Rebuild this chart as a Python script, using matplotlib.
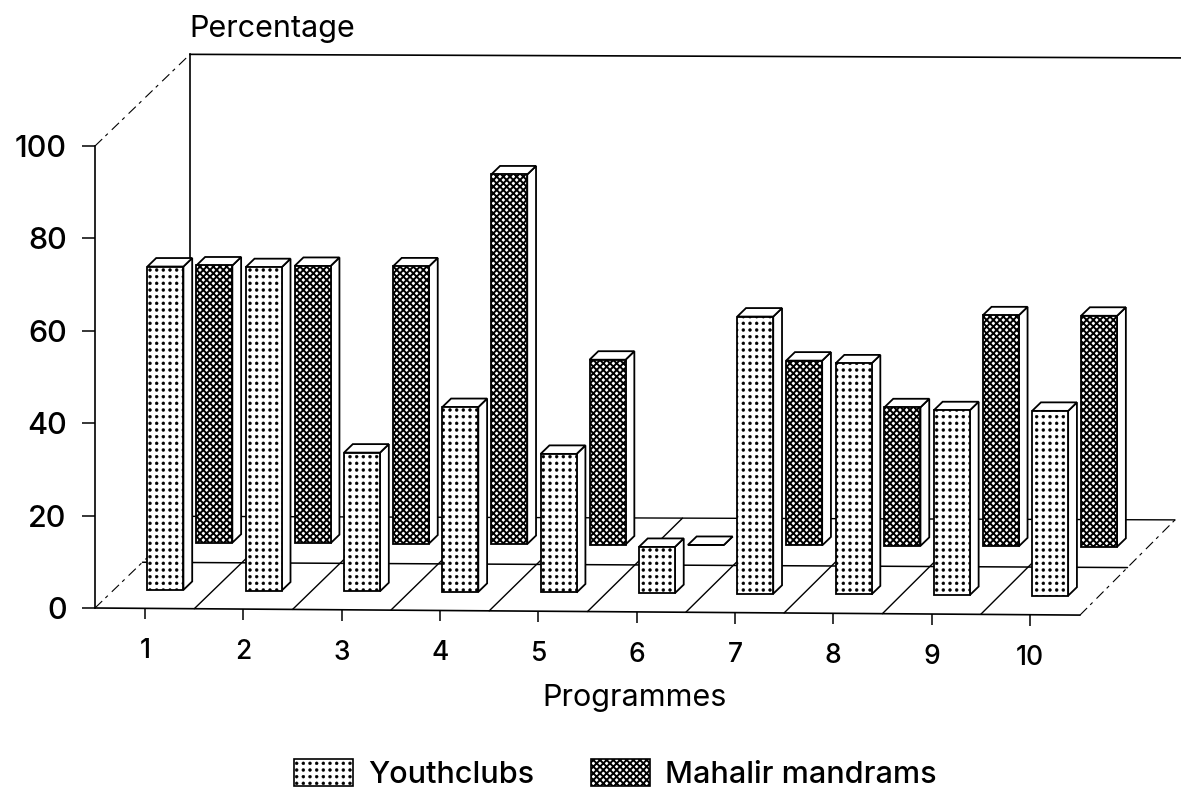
import matplotlib
matplotlib.use("Agg")
import matplotlib.pyplot as plt
import numpy as np
from matplotlib import hatch as mhatch
from matplotlib.path import Path
from matplotlib.patches import Patch
from matplotlib.transforms import Affine2D

programmes = [1, 2, 3, 4, 5, 6, 7, 8, 9, 10]
youthclubs = [70, 70, 30, 40, 30, 10, 60, 50, 40, 40]
mahalir = [60, 60, 60, 80, 40, 0, 40, 30, 50, 50]
y_ticks = [0, 20, 40, 60, 80, 100]
x_label = "Programmes"
y_label = "Percentage"
series_names = ["Youthclubs", "Mahalir mandrams"]


class GridDots(mhatch.HatchPatternBase):
    """Square grid of dots, as in the printed screen tone."""
    rows = 15
    size = 0.22

    def __init__(self, hatch, density):
        self.active = '*' in (hatch or '')
        self.shape = Path.unit_circle()
        self.num_vertices = (self.rows ** 2 * len(self.shape.vertices)) if self.active else 0

    def set_vertices_and_codes(self, vertices, codes):
        if not self.active:
            return
        off = 1.0 / self.rows
        v = self.shape.vertices * off * self.size
        n = len(v)
        cur = 0
        for r in range(self.rows):
            for c in range(self.rows):
                vertices[cur:cur + n] = v + (c * off + off / 2, r * off + off / 2)
                codes[cur:cur + n] = self.shape.codes
                cur += n


mhatch._hatch_types = [t for t in mhatch._hatch_types if t is not mhatch.Stars] + [GridDots]

plt.rcParams['font.family'] = ['Inter', 'DejaVu Sans']
plt.rcParams['font.weight'] = 500
FS = 21
FS_TEXT = 22
W, H = 1181, 798
fig = plt.figure(figsize=(W / 100, H / 100), dpi=100, facecolor='white')
ax = fig.add_axes([95 / W, (H - 608) / H, 985 / W, 462 / H])
ax.set_xlim(0.49, 10.51)
ax.set_ylim(0, 100)
ax.patch.set_alpha(0)

PX = 985 / (10.51 - 0.49)
PY = 4.62
DX = 95 / PX        # x shift for full floor depth
DY = 92 / PY        # y shift for full floor depth
SLOPE = 0.0072      # scan tilt of the baseline, pixels per pixel
TILT = SLOPE * PX / PY


def P(x, y, d=0.0):
    x = np.asarray(x, float)
    return x + d * DX, y + d * DY - TILT * (1 - 0.5 * d) * (x + d * DX - 0.49)


def seg(x0, y0, d0, x1, y1, d1, **kw):
    a, b = P(x0, y0, d0), P(x1, y1, d1)
    kw.setdefault('color', 'black')
    kw.setdefault('lw', 1.0)
    ax.plot([a[0], b[0]], [a[1], b[1]], clip_on=False, solid_capstyle='round', **kw)


XL, XR = 0.49, 10.51
dash = (0, (9, 4, 3, 5))
# back wall
ax.plot([P(XL, 100, 1)[0]] * 2, [P(XL, 0, 1)[1], P(XL, 100, 1)[1]], color='black', lw=1.2, clip_on=False, zorder=1)
seg(XL, 100, 1, XR + 0.08, 100, 1, zorder=1, lw=1.2)
seg(XL, 0, 1, XR, 0, 1, zorder=1)
# left side wall and floor edges
seg(XL, 100, 0, XL, 100, 1, ls=dash, lw=0.8, zorder=1)
seg(XL, 0, 0, XL, 0, 1, ls=dash, lw=0.8, zorder=1)
seg(XR, 0, 0, XR, 0, 1, ls=dash, lw=0.8, zorder=1)
# floor
seg(XL, 0, 0, XR, 0, 0, zorder=1, lw=1.2)
seg(XL, 0, 0.5, XR, 0, 0.5, zorder=1, lw=1.1)
for k in programmes[:-1]:
    seg(k + 0.5, 0, 0, k + 0.5, 0, 1, zorder=1)


def bars(values, depth, z, **style):
    dd = 8.5 / 92
    w = 36 / PX
    for i, (c, v) in enumerate(zip(programmes, values)):
        left = c - 0.17
        x0, y0 = P(left, 0, depth)
        ax.bar(x0, v, width=w, bottom=y0, align='edge', facecolor='white', edgecolor='black',
               linewidth=1.3, zorder=z + i * 0.01 + 0.005, clip_on=False, **style)
        # side face
        q = [(x0 + w, y0), (x0 + w + dd * DX, y0 + dd * DY), (x0 + w + dd * DX, y0 + dd * DY + v), (x0 + w, y0 + v)]
        ax.fill(*zip(*q), facecolor='white', edgecolor='black', lw=1.3, zorder=z + i * 0.01, clip_on=False)
        # top face
        q = [(x0, y0 + v), (x0 + w, y0 + v), (x0 + w + dd * DX, y0 + v + dd * DY), (x0 + dd * DX, y0 + v + dd * DY)]
        ax.fill(*zip(*q), facecolor='white', edgecolor='black', lw=1.3, zorder=z + i * 0.01, clip_on=False)


DARK_LW = 1.4
DOT_LW = 0.3
plt.rcParams['hatch.linewidth'] = DARK_LW
bars(mahalir, 0.715, 3, hatch='xxxxx')
plt.rcParams['hatch.linewidth'] = DOT_LW
bars(youthclubs, 0.20, 5, hatch='*')

# axes
for s in ('top', 'right', 'bottom'):
    ax.spines[s].set_visible(False)
ax.spines['left'].set_linewidth(1.2)
ax.set_yticks(y_ticks)
ax.set_xticks(programmes)
ax.tick_params(axis='y', length=9.4, width=1.1, pad=11, labelsize=FS + 1)
ax.tick_params(axis='x', length=8, width=1.1, pad=13.5, labelsize=FS - 2)
for t, c in zip(ax.xaxis.get_major_ticks(), programmes):
    dy = SLOPE * (c - 0.49) * PX
    shift = Affine2D().translate(0, -dy)
    t.tick1line.set_transform(t.tick1line.get_transform() + shift)
    t.label1.set_transform(t.label1.get_transform() + shift)

ax.set_xlabel(x_label, fontsize=FS_TEXT, va='center', ha='center')
ax.xaxis.set_label_coords((635 - 95) / 985, -(698 - 608) / 462)
ax.set_ylabel(y_label, fontsize=FS_TEXT, rotation=0, ha='left', va='center')
ax.yaxis.set_label_coords((189 - 95) / 985, (608 - 29) / 462)

h1 = Patch(facecolor='white', edgecolor='black', hatch='*', lw=1.2)
h2 = Patch(facecolor='white', edgecolor='black', hatch='xxxxx', lw=1.2)
leg = fig.legend([h1, h2], series_names, ncol=2, frameon=False, fontsize=FS_TEXT,
                 loc='center', bbox_to_anchor=(615 / W, (H - 774) / H),
                 handlelength=1.93, handleheight=1.0, handletextpad=0.49, columnspacing=1.86,
                 borderpad=0, borderaxespad=0)
leg.get_patches()[0]._hatch_linewidth = DOT_LW
leg.get_patches()[1]._hatch_linewidth = DARK_LW

fig.savefig("out.png", dpi=100, facecolor='white')
